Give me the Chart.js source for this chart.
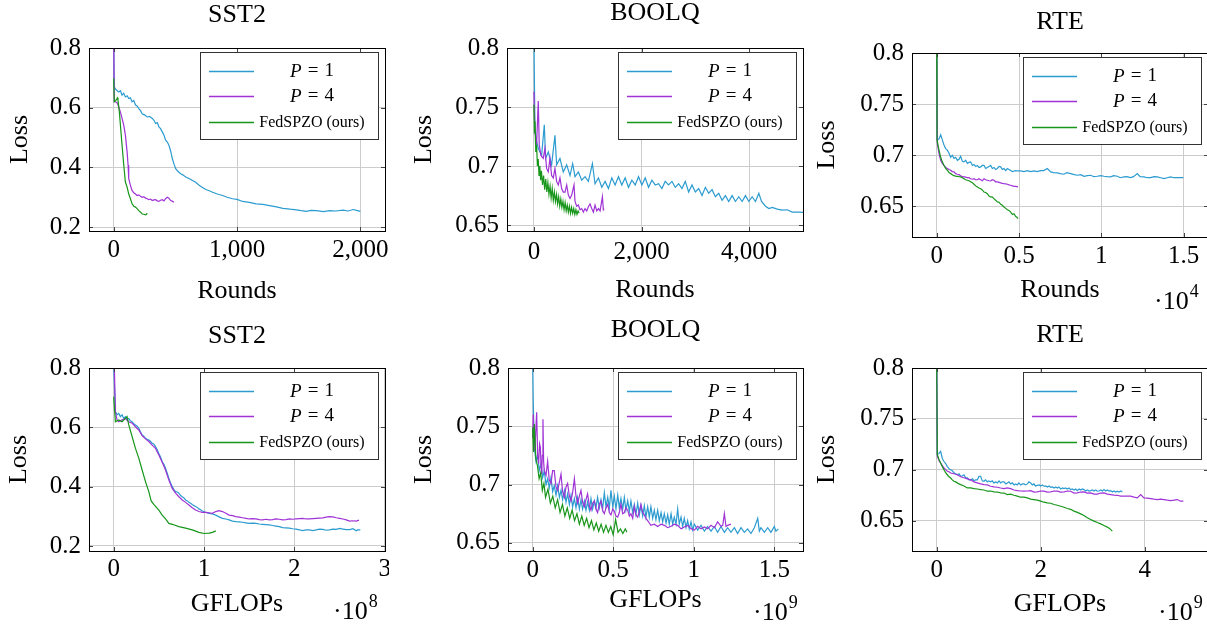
<!DOCTYPE html>
<html>
<head>
<meta charset="utf-8">
<script src="https://cdn.jsdelivr.net/npm/chart.js@4.4.0/dist/chart.umd.min.js"></script>
<style>
html, body { margin:0; padding:0; background:#fff; width:1207px; height:626px; overflow:hidden; position:relative; }
canvas { position:absolute; }
</style>
</head>
<body>
<canvas id="c1"></canvas>
<canvas id="c2"></canvas>
<canvas id="c3"></canvas>
<canvas id="c4"></canvas>
<canvas id="c5"></canvas>
<canvas id="c6"></canvas>
<script>
// ---- data ----
var seriesLabels = ['P = 1', 'P = 4', 'FedSPZO (ours)'];
var seriesColors = ['#2b9bd0', '#a033d6', '#17961a'];

var lossTicksCoarse = [0.2, 0.4, 0.6, 0.8];
var lossTicksFine = [0.65, 0.7, 0.75, 0.8];
var roundTicksSST2 = [0, 1000, 2000];
var roundTicksBOOLQ = [0, 2000, 4000];
var roundTicksRTE = [0, 5000, 10000, 15000];   // shown as x10^4
var flopTicksSST2 = [0, 1, 2, 3];              // x10^8
var flopTicksBOOLQ = [0, 0.5, 1, 1.5];         // x10^9
var flopTicksRTE = [0, 2, 4];                  // x10^9

// SST2 - rounds
var sst2RoundsP1 = [[0,0.85],[4,0.670],[20,0.660],[41,0.653],[55,0.657],[68,0.642],[82,0.648],[95,0.636],[110,0.640],[122,0.631],[135,0.633],[149,0.620],[163,0.624],[177,0.609],[190,0.606],[204,0.597],[218,0.590],[231,0.580],[250,0.576],[272,0.569],[290,0.571],[313,0.564],[327,0.558],[340,0.547],[354,0.550],[367,0.536],[380,0.530],[394,0.519],[408,0.508],[421,0.491],[435,0.485],[448,0.474],[462,0.455],[476,0.429],[490,0.410],[503,0.396],[520,0.387],[543,0.379],[560,0.375],[584,0.368],[610,0.363],[639,0.356],[665,0.350],[693,0.340],[720,0.333],[747,0.326],[775,0.322],[802,0.317],[840,0.311],[883,0.306],[920,0.300],[965,0.295],[1000,0.293],[1046,0.286],[1100,0.283],[1155,0.278],[1210,0.276],[1264,0.272],[1320,0.268],[1372,0.263],[1430,0.260],[1481,0.258],[1520,0.255],[1562,0.253],[1600,0.256],[1644,0.255],[1700,0.252],[1753,0.255],[1800,0.254],[1861,0.257],[1900,0.254],[1943,0.259],[1970,0.256],[2000,0.253]];
var sst2RoundsP4 = [[0,0.85],[5,0.620],[14,0.620],[27,0.617],[41,0.603],[54,0.586],[68,0.564],[82,0.541],[95,0.508],[109,0.452],[117,0.407],[122,0.362],[136,0.340],[149,0.323],[163,0.315],[177,0.311],[190,0.306],[204,0.308],[218,0.303],[231,0.300],[245,0.302],[258,0.297],[272,0.295],[285,0.292],[299,0.294],[313,0.289],[326,0.291],[340,0.292],[354,0.288],[367,0.286],[380,0.290],[394,0.292],[408,0.288],[421,0.295],[435,0.300],[448,0.297],[462,0.289],[475,0.287],[489,0.283]];
var sst2RoundsOurs = [[0,0.698],[5,0.620],[12,0.622],[19,0.625],[30,0.633],[35,0.625],[46,0.586],[57,0.530],[68,0.474],[82,0.407],[95,0.351],[109,0.334],[122,0.311],[136,0.295],[149,0.278],[163,0.270],[177,0.267],[190,0.262],[204,0.255],[218,0.250],[231,0.244],[245,0.243],[258,0.241],[265,0.242],[272,0.247]];

// BOOLQ - rounds
var boolqRoundsP1 = [[0,0.81],[19,0.732],[50,0.721],[81,0.715],[143,0.709],[193,0.735],[217,0.7065],[267,0.712],[329,0.701],[391,0.726],[422,0.701],[484,0.7065],[546,0.695],[609,0.701],[671,0.692],[720,0.702],[764,0.691],[826,0.695],[888,0.688],[950,0.691],[1012,0.687],[1087,0.702],[1136,0.685],[1199,0.690],[1261,0.682],[1323,0.687],[1385,0.681],[1447,0.690],[1509,0.684],[1571,0.691],[1633,0.684],[1695,0.690],[1757,0.682],[1820,0.688],[1882,0.684],[1944,0.691],[2006,0.684],[2068,0.690],[2130,0.682],[2192,0.688],[2254,0.684],[2316,0.685],[2378,0.681],[2440,0.687],[2502,0.684],[2565,0.687],[2627,0.682],[2689,0.685],[2751,0.681],[2813,0.687],[2875,0.678],[2937,0.684],[2999,0.678],[3062,0.681],[3124,0.675],[3186,0.682],[3248,0.677],[3310,0.680],[3372,0.674],[3434,0.677],[3496,0.671],[3558,0.675],[3620,0.670],[3683,0.675],[3745,0.670],[3807,0.674],[3869,0.670],[3931,0.675],[3993,0.670],[4055,0.674],[4117,0.670],[4179,0.677],[4229,0.670],[4304,0.666],[4366,0.664],[4428,0.665],[4521,0.6635],[4614,0.6627],[4707,0.663],[4800,0.661],[4925,0.661],[5018,0.6607]];
var boolqRoundsP4 = [[0,0.763],[19,0.729],[50,0.718],[81,0.755],[99,0.718],[130,0.709],[174,0.7065],[205,0.715],[236,0.698],[267,0.695],[298,0.7065],[329,0.692],[360,0.690],[391,0.698],[422,0.687],[453,0.684],[484,0.690],[515,0.681],[546,0.678],[578,0.678],[609,0.684],[640,0.6754],[671,0.6726],[702,0.6754],[745,0.684],[764,0.670],[795,0.666],[826,0.667],[857,0.663],[888,0.664],[919,0.661],[950,0.664],[981,0.662],[1012,0.6655],[1043,0.668],[1074,0.664],[1105,0.661],[1136,0.667],[1168,0.662],[1199,0.664],[1230,0.662],[1273,0.674],[1290,0.663],[1304,0.664]];
var boolqRoundsOurs = [[0,0.752],[10,0.728],[20,0.738],[35,0.712],[50,0.718],[65,0.700],[80,0.706],[95,0.692],[110,0.700],[125,0.688],[140,0.696],[160,0.684],[180,0.692],[200,0.680],[220,0.689],[240,0.678],[260,0.686],[280,0.676],[300,0.683],[320,0.673],[340,0.681],[360,0.671],[380,0.678],[400,0.670],[420,0.676],[440,0.668],[460,0.674],[480,0.666],[500,0.672],[520,0.665],[540,0.670],[560,0.663],[580,0.669],[600,0.662],[620,0.667],[640,0.661],[660,0.666],[680,0.660],[700,0.665],[720,0.660],[740,0.664],[760,0.659],[780,0.663],[800,0.659],[820,0.662],[840,0.660]];

// RTE - rounds
var rteRoundsP1 = [[0,0.81],[40,0.715],[142,0.716],[243,0.720],[344,0.715],[445,0.710],[547,0.7065],[648,0.705],[749,0.702],[850,0.698],[950,0.700],[1052,0.697],[1150,0.698],[1255,0.695],[1360,0.696],[1457,0.699],[1560,0.694],[1660,0.6935],[1760,0.695],[1862,0.692],[1960,0.693],[2064,0.6935],[2170,0.690],[2267,0.691],[2370,0.689],[2469,0.690],[2570,0.688],[2672,0.6886],[2770,0.690],[2874,0.690],[2975,0.687],[3076,0.688],[3180,0.689],[3279,0.690],[3380,0.687],[3481,0.688],[3580,0.686],[3684,0.687],[3790,0.689],[3886,0.6886],[3990,0.686],[4088,0.687],[4190,0.685],[4291,0.687],[4390,0.686],[4493,0.685],[4600,0.684],[4696,0.6846],[4800,0.685],[4898,0.6846],[5100,0.6846],[5300,0.684],[5505,0.685],[5700,0.684],[5910,0.6846],[6100,0.684],[6315,0.685],[6500,0.685],[6720,0.687],[6922,0.6837],[7100,0.683],[7327,0.6827],[7500,0.682],[7732,0.6814],[7900,0.683],[8136,0.682],[8350,0.681],[8541,0.6804],[8750,0.681],[8946,0.6794],[9150,0.680],[9351,0.6804],[9550,0.679],[9756,0.6794],[9950,0.680],[10160,0.6794],[10350,0.679],[10565,0.6788],[10750,0.680],[10970,0.6794],[11150,0.678],[11375,0.6788],[11550,0.679],[11780,0.6781],[11950,0.679],[12184,0.682],[12350,0.679],[12589,0.6788],[12800,0.678],[12994,0.6781],[13200,0.679],[13399,0.6788],[13600,0.678],[13804,0.6771],[14000,0.678],[14208,0.6788],[14400,0.678],[14613,0.6781],[14800,0.678],[14978,0.6781]];
var rteRoundsP4 = [[0,0.81],[40,0.7114],[142,0.7016],[243,0.695],[344,0.692],[445,0.690],[547,0.688],[648,0.687],[749,0.686],[850,0.6853],[950,0.684],[1052,0.6837],[1150,0.682],[1255,0.6814],[1360,0.681],[1457,0.680],[1560,0.679],[1660,0.6788],[1760,0.6785],[1862,0.678],[1960,0.678],[2064,0.677],[2170,0.6765],[2267,0.677],[2370,0.676],[2469,0.676],[2570,0.677],[2672,0.676],[2770,0.675],[2874,0.677],[2975,0.676],[3076,0.6755],[3180,0.675],[3279,0.6748],[3380,0.676],[3481,0.6755],[3580,0.674],[3684,0.674],[3790,0.6735],[3886,0.673],[3990,0.6725],[4088,0.6722],[4190,0.672],[4291,0.6716],[4390,0.671],[4493,0.6706],[4600,0.670],[4696,0.6696],[4800,0.6695],[4939,0.669]];
var rteRoundsOurs = [[0,0.81],[20,0.715],[142,0.705],[243,0.698],[344,0.6935],[445,0.690],[547,0.687],[648,0.6853],[749,0.683],[850,0.682],[950,0.681],[1052,0.680],[1150,0.6795],[1255,0.6794],[1360,0.679],[1457,0.6788],[1560,0.678],[1660,0.677],[1760,0.676],[1862,0.6755],[1960,0.675],[2064,0.674],[2170,0.673],[2267,0.6716],[2370,0.670],[2469,0.669],[2570,0.668],[2672,0.6673],[2770,0.666],[2874,0.664],[2975,0.6635],[3076,0.6624],[3180,0.660],[3279,0.6592],[3380,0.659],[3481,0.6575],[3580,0.656],[3684,0.6543],[3790,0.654],[3886,0.652],[3990,0.651],[4088,0.6494],[4190,0.648],[4291,0.6467],[4390,0.646],[4493,0.6444],[4600,0.642],[4696,0.6428],[4800,0.640],[4858,0.6395],[4939,0.638]];

// SST2 - GFLOPs (x10^8)
var sst2FlopsP1 = [[0,0.81],[0.019,0.653],[0.037,0.642],[0.056,0.647],[0.074,0.636],[0.093,0.642],[0.111,0.630],[0.130,0.636],[0.148,0.628],[0.167,0.630],[0.185,0.622],[0.204,0.619],[0.222,0.612],[0.241,0.608],[0.26,0.604],[0.278,0.597],[0.296,0.585],[0.315,0.574],[0.333,0.570],[0.352,0.563],[0.37,0.560],[0.389,0.557],[0.407,0.553],[0.426,0.546],[0.444,0.544],[0.463,0.535],[0.481,0.525],[0.500,0.512],[0.519,0.500],[0.537,0.484],[0.556,0.475],[0.574,0.462],[0.593,0.445],[0.611,0.428],[0.630,0.412],[0.648,0.400],[0.667,0.390],[0.685,0.383],[0.704,0.382],[0.722,0.378],[0.741,0.370],[0.759,0.366],[0.778,0.362],[0.796,0.355],[0.815,0.352],[0.833,0.347],[0.852,0.344],[0.870,0.340],[0.889,0.336],[0.907,0.333],[0.926,0.330],[0.944,0.325],[0.963,0.322],[0.981,0.318],[1.000,0.316],[1.019,0.313],[1.056,0.310],[1.093,0.308],[1.130,0.304],[1.167,0.298],[1.204,0.293],[1.241,0.291],[1.278,0.288],[1.315,0.284],[1.352,0.282],[1.389,0.281],[1.426,0.280],[1.463,0.278],[1.500,0.276],[1.537,0.277],[1.574,0.276],[1.611,0.274],[1.648,0.273],[1.685,0.272],[1.722,0.271],[1.759,0.269],[1.796,0.267],[1.833,0.265],[1.870,0.262],[1.907,0.261],[1.944,0.260],[1.981,0.258],[2.019,0.257],[2.056,0.254],[2.093,0.252],[2.13,0.254],[2.167,0.254],[2.204,0.252],[2.241,0.254],[2.278,0.257],[2.315,0.256],[2.352,0.253],[2.389,0.254],[2.426,0.257],[2.463,0.256],[2.5,0.259],[2.537,0.257],[2.574,0.255],[2.611,0.255],[2.648,0.258],[2.685,0.251],[2.70,0.254],[2.730,0.254]];
var sst2FlopsP4 = [[0.007,0.81],[0.019,0.653],[0.037,0.625],[0.056,0.619],[0.074,0.622],[0.093,0.625],[0.111,0.627],[0.130,0.630],[0.148,0.624],[0.167,0.619],[0.204,0.614],[0.241,0.602],[0.278,0.591],[0.315,0.572],[0.352,0.561],[0.389,0.552],[0.426,0.540],[0.463,0.529],[0.500,0.507],[0.537,0.482],[0.574,0.456],[0.611,0.422],[0.648,0.394],[0.685,0.378],[0.722,0.366],[0.759,0.355],[0.796,0.347],[0.833,0.338],[0.870,0.329],[0.907,0.321],[0.944,0.316],[0.981,0.313],[1.019,0.313],[1.056,0.312],[1.093,0.310],[1.130,0.316],[1.167,0.319],[1.204,0.316],[1.241,0.310],[1.278,0.304],[1.315,0.302],[1.352,0.299],[1.389,0.297],[1.426,0.295],[1.463,0.293],[1.500,0.291],[1.537,0.292],[1.574,0.291],[1.611,0.289],[1.648,0.288],[1.685,0.290],[1.722,0.288],[1.759,0.289],[1.796,0.291],[1.833,0.290],[1.870,0.288],[1.907,0.289],[1.944,0.291],[1.981,0.290],[2.019,0.291],[2.056,0.292],[2.093,0.293],[2.13,0.291],[2.167,0.291],[2.204,0.292],[2.241,0.293],[2.278,0.294],[2.315,0.295],[2.352,0.297],[2.389,0.299],[2.426,0.298],[2.463,0.295],[2.5,0.293],[2.537,0.291],[2.574,0.288],[2.611,0.284],[2.648,0.285],[2.685,0.284],[2.715,0.287]];
var sst2FlopsOurs = [[0,0.703],[0.019,0.619],[0.056,0.625],[0.093,0.619],[0.130,0.630],[0.148,0.636],[0.167,0.608],[0.204,0.569],[0.241,0.529],[0.278,0.496],[0.315,0.456],[0.352,0.417],[0.389,0.383],[0.415,0.352],[0.444,0.340],[0.500,0.321],[0.537,0.304],[0.574,0.291],[0.611,0.276],[0.648,0.273],[0.722,0.265],[0.796,0.260],[0.870,0.254],[0.944,0.246],[1.000,0.242],[1.056,0.243],[1.093,0.246],[1.130,0.251]];

// BOOLQ - GFLOPs (x10^9)
var boolqFlopsP1 = [[0,0.81],[0.004,0.769],[0.010,0.732],[0.021,0.720],[0.031,0.726],[0.041,0.712],[0.052,0.718],[0.062,0.706],[0.072,0.712],[0.083,0.700],[0.093,0.705],[0.103,0.697],[0.114,0.706],[0.124,0.694],[0.134,0.699],[0.145,0.691],[0.155,0.699],[0.166,0.689],[0.176,0.695],[0.186,0.687],[0.197,0.695],[0.207,0.685],[0.217,0.692],[0.228,0.683],[0.238,0.691],[0.248,0.681],[0.259,0.688],[0.269,0.680],[0.279,0.689],[0.290,0.679],[0.300,0.687],[0.310,0.679],[0.321,0.686],[0.331,0.678],[0.341,0.685],[0.352,0.678],[0.362,0.688],[0.372,0.679],[0.383,0.686],[0.393,0.680],[0.403,0.689],[0.414,0.680],[0.424,0.687],[0.434,0.679],[0.445,0.693],[0.455,0.681],[0.466,0.689],[0.476,0.680],[0.486,0.695],[0.497,0.681],[0.507,0.690],[0.517,0.679],[0.528,0.691],[0.538,0.680],[0.548,0.688],[0.559,0.679],[0.569,0.689],[0.579,0.678],[0.590,0.686],[0.600,0.677],[0.610,0.686],[0.621,0.676],[0.631,0.683],[0.641,0.674],[0.652,0.684],[0.662,0.674],[0.672,0.682],[0.683,0.673],[0.693,0.682],[0.703,0.672],[0.714,0.681],[0.724,0.672],[0.734,0.681],[0.745,0.671],[0.755,0.678],[0.765,0.670],[0.776,0.678],[0.786,0.669],[0.797,0.676],[0.807,0.668],[0.817,0.675],[0.828,0.667],[0.838,0.674],[0.848,0.666],[0.859,0.675],[0.869,0.666],[0.879,0.672],[0.890,0.666],[0.900,0.679],[0.910,0.666],[0.921,0.672],[0.931,0.664],[0.941,0.671],[0.952,0.663],[0.962,0.669],[0.972,0.662],[0.983,0.668],[0.993,0.661],[1.004,0.666],[1.024,0.661],[1.045,0.665],[1.066,0.660],[1.086,0.664],[1.107,0.660],[1.128,0.664],[1.148,0.659],[1.169,0.664],[1.190,0.659],[1.210,0.663],[1.231,0.659],[1.252,0.663],[1.272,0.658],[1.293,0.663],[1.314,0.659],[1.334,0.662],[1.355,0.658],[1.376,0.663],[1.397,0.671],[1.407,0.660],[1.417,0.663],[1.438,0.659],[1.459,0.663],[1.479,0.659],[1.500,0.664],[1.510,0.660],[1.525,0.662]];
var boolqFlopsP4 = [[0,0.740],[0.004,0.760],[0.009,0.735],[0.014,0.729],[0.020,0.748],[0.025,0.762],[0.031,0.725],[0.037,0.718],[0.043,0.735],[0.048,0.732],[0.052,0.716],[0.056,0.709],[0.060,0.725],[0.064,0.756],[0.068,0.720],[0.072,0.712],[0.083,0.708],[0.093,0.720],[0.103,0.704],[0.114,0.701],[0.124,0.712],[0.134,0.712],[0.145,0.698],[0.155,0.695],[0.166,0.702],[0.176,0.709],[0.186,0.694],[0.197,0.689],[0.207,0.698],[0.217,0.701],[0.228,0.690],[0.238,0.686],[0.248,0.693],[0.259,0.705],[0.269,0.690],[0.279,0.684],[0.290,0.690],[0.300,0.695],[0.310,0.685],[0.321,0.681],[0.331,0.687],[0.341,0.692],[0.352,0.682],[0.362,0.678],[0.372,0.684],[0.383,0.686],[0.393,0.679],[0.403,0.676],[0.414,0.683],[0.424,0.686],[0.434,0.678],[0.445,0.675],[0.455,0.680],[0.466,0.683],[0.476,0.676],[0.486,0.674],[0.497,0.679],[0.507,0.677],[0.517,0.673],[0.528,0.672],[0.538,0.676],[0.548,0.683],[0.559,0.675],[0.569,0.676],[0.579,0.680],[0.590,0.678],[0.600,0.673],[0.610,0.675],[0.621,0.671],[0.631,0.681],[0.641,0.674],[0.652,0.672],[0.662,0.677],[0.672,0.683],[0.683,0.676],[0.693,0.674],[0.703,0.671],[0.714,0.669],[0.724,0.667],[0.734,0.665],[0.755,0.666],[0.776,0.664],[0.797,0.666],[0.817,0.665],[0.838,0.663],[0.859,0.6642],[0.879,0.666],[0.900,0.665],[0.921,0.662],[0.941,0.6636],[0.962,0.665],[0.983,0.6622],[1.004,0.661],[1.024,0.6642],[1.045,0.662],[1.066,0.6636],[1.086,0.662],[1.107,0.665],[1.128,0.663],[1.148,0.668],[1.169,0.6642],[1.180,0.665],[1.190,0.675],[1.200,0.664],[1.210,0.665],[1.231,0.666]];
var boolqFlopsOurs = [[0,0.749],[0.005,0.728],[0.010,0.752],[0.020,0.722],[0.030,0.716],[0.040,0.705],[0.050,0.710],[0.060,0.695],[0.070,0.701],[0.080,0.689],[0.095,0.696],[0.110,0.684],[0.125,0.690],[0.140,0.680],[0.155,0.687],[0.170,0.676],[0.185,0.683],[0.200,0.673],[0.215,0.680],[0.230,0.671],[0.245,0.678],[0.260,0.669],[0.275,0.675],[0.290,0.666],[0.305,0.673],[0.320,0.665],[0.335,0.671],[0.350,0.663],[0.365,0.669],[0.380,0.661],[0.395,0.667],[0.410,0.660],[0.425,0.666],[0.440,0.659],[0.455,0.665],[0.470,0.659],[0.485,0.664],[0.500,0.657],[0.515,0.670],[0.530,0.659],[0.545,0.662],[0.560,0.658],[0.575,0.662],[0.585,0.659]];

// RTE - GFLOPs (x10^9)
var rteFlopsP1 = [[0,0.81],[0.013,0.715],[0.045,0.716],[0.077,0.718],[0.109,0.711],[0.141,0.708],[0.173,0.706],[0.205,0.703],[0.237,0.701],[0.269,0.700],[0.301,0.699],[0.333,0.697],[0.365,0.696],[0.397,0.695],[0.43,0.696],[0.462,0.6935],[0.494,0.694],[0.526,0.695],[0.558,0.692],[0.590,0.692],[0.622,0.690],[0.654,0.690],[0.69,0.691],[0.72,0.689],[0.75,0.690],[0.782,0.690],[0.815,0.6935],[0.846,0.6935],[0.878,0.689],[0.910,0.6886],[0.94,0.690],[0.975,0.688],[1.0,0.689],[1.038,0.688],[1.07,0.689],[1.10,0.687],[1.135,0.688],[1.167,0.687],[1.20,0.689],[1.23,0.687],[1.26,0.688],[1.295,0.688],[1.33,0.686],[1.36,0.687],[1.39,0.688],[1.423,0.686],[1.455,0.687],[1.49,0.685],[1.52,0.686],[1.551,0.685],[1.58,0.687],[1.615,0.685],[1.65,0.686],[1.679,0.686],[1.71,0.685],[1.745,0.686],[1.775,0.688],[1.808,0.687],[1.84,0.685],[1.87,0.686],[1.90,0.684],[1.936,0.6846],[1.97,0.685],[2.0,0.684],[2.03,0.685],[2.064,0.6837],[2.10,0.684],[2.13,0.683],[2.16,0.684],[2.192,0.6827],[2.225,0.683],[2.26,0.682],[2.29,0.683],[2.321,0.682],[2.35,0.683],[2.385,0.681],[2.42,0.682],[2.449,0.6814],[2.48,0.682],[2.51,0.681],[2.545,0.682],[2.577,0.6804],[2.61,0.681],[2.64,0.680],[2.675,0.681],[2.705,0.6794],[2.74,0.681],[2.77,0.680],[2.80,0.681],[2.833,0.6804],[2.865,0.679],[2.90,0.680],[2.93,0.679],[2.962,0.6794],[2.995,0.680],[3.025,0.679],[3.06,0.680],[3.090,0.6788],[3.12,0.679],[3.155,0.680],[3.185,0.679],[3.218,0.6804],[3.25,0.679],[3.28,0.680],[3.315,0.679],[3.346,0.6794],[3.38,0.678],[3.41,0.679],[3.44,0.678],[3.474,0.6788],[3.505,0.678],[3.54,0.679],[3.571,0.6781]];
var rteFlopsP4 = [[0,0.81],[0.013,0.713],[0.045,0.709],[0.077,0.7065],[0.109,0.704],[0.141,0.7016],[0.173,0.700],[0.205,0.6984],[0.237,0.698],[0.269,0.6967],[0.333,0.696],[0.397,0.695],[0.462,0.693],[0.526,0.692],[0.590,0.691],[0.654,0.690],[0.718,0.688],[0.782,0.687],[0.846,0.686],[0.910,0.6853],[0.974,0.685],[1.038,0.6837],[1.103,0.683],[1.167,0.6827],[1.231,0.682],[1.295,0.6814],[1.359,0.682],[1.423,0.6814],[1.487,0.680],[1.551,0.6794],[1.615,0.679],[1.679,0.6788],[1.744,0.679],[1.808,0.6794],[1.872,0.678],[1.936,0.6781],[2.0,0.679],[2.064,0.6788],[2.128,0.678],[2.192,0.6781],[2.256,0.679],[2.321,0.6788],[2.385,0.678],[2.449,0.6781],[2.513,0.679],[2.577,0.6788],[2.641,0.677],[2.705,0.6771],[2.769,0.678],[2.833,0.6781],[2.897,0.677],[2.962,0.6771],[3.026,0.676],[3.090,0.676],[3.154,0.677],[3.218,0.6771],[3.282,0.676],[3.346,0.6755],[3.41,0.675],[3.474,0.6748],[3.538,0.674],[3.603,0.6739],[3.667,0.674],[3.731,0.6739],[3.795,0.673],[3.859,0.6722],[3.923,0.6755],[3.987,0.6722],[4.051,0.672],[4.115,0.6716],[4.18,0.671],[4.244,0.6706],[4.308,0.671],[4.372,0.6706],[4.436,0.670],[4.500,0.6696],[4.564,0.670],[4.628,0.6706],[4.69,0.669],[4.744,0.669]];
var rteFlopsOurs = [[0,0.81],[0.013,0.715],[0.045,0.710],[0.077,0.7065],[0.109,0.703],[0.141,0.700],[0.173,0.697],[0.205,0.695],[0.237,0.693],[0.269,0.6918],[0.301,0.690],[0.333,0.6886],[0.365,0.688],[0.397,0.687],[0.43,0.686],[0.462,0.6853],[0.526,0.684],[0.590,0.682],[0.654,0.682],[0.718,0.6814],[0.782,0.681],[0.846,0.6804],[0.910,0.680],[0.974,0.6788],[1.038,0.679],[1.103,0.6781],[1.167,0.678],[1.231,0.6771],[1.295,0.677],[1.359,0.6755],[1.423,0.676],[1.487,0.6748],[1.551,0.674],[1.615,0.6729],[1.679,0.673],[1.744,0.6722],[1.808,0.671],[1.872,0.6706],[1.936,0.670],[2.000,0.669],[2.064,0.668],[2.128,0.6673],[2.192,0.667],[2.256,0.6657],[2.321,0.665],[2.385,0.664],[2.449,0.663],[2.513,0.6618],[2.577,0.661],[2.641,0.6592],[2.705,0.658],[2.769,0.6565],[2.833,0.655],[2.897,0.6526],[2.962,0.651],[3.026,0.6494],[3.090,0.648],[3.154,0.6467],[3.218,0.645],[3.282,0.6435],[3.33,0.642],[3.378,0.6395]];

// ---- layout of the six panels (page pixels) ----
var HEAD = 60, YAX = 100, XAX = 80, RPAD = 4;
var FS = 26, TICKFS = 25;
var panels = [
  {id:'c1', L:89,  R:385,  T:48,  B:231, title:'SST2',  titleC:27,   lossC:31, xTitle:'Rounds', xTitleD:60.5, tickD:19.5,
   xMin:-200, xMax:2200, yMin:0.187, yMax:0.8, xTicks:roundTicksSST2, yTicks:lossTicksCoarse, fmt:'thousands', exp:null,
   series:[sst2RoundsP1, sst2RoundsP4, sst2RoundsOurs]},
  {id:'c2', L:507, R:803,  T:48,  B:231, title:'BOOLQ', titleC:25.5, lossC:17, xTitle:'Rounds', xTitleD:59.5, tickD:21.5,
   xMin:-500, xMax:5000, yMin:0.645, yMax:0.8, xTicks:roundTicksBOOLQ, yTicks:lossTicksFine, fmt:'thousands', exp:null,
   series:[boolqRoundsP1, boolqRoundsP4, boolqRoundsOurs]},
  {id:'c3', L:912, R:1208, T:53,  B:237, title:'RTE',   titleC:29.5, lossC:15, xTitle:'Rounds', xTitleD:53, tickD:19.5,
   xMin:-1498, xMax:16476, yMin:0.62, yMax:0.8, xTicks:roundTicksRTE, yTicks:lossTicksFine, fmt:'e4', exp:{t:'4', dx:-54, dy:65},
   series:[rteRoundsP1, rteRoundsP4, rteRoundsOurs]},
  {id:'c4', L:89,  R:385,  T:368, B:551, title:'SST2',  titleC:28.5, lossC:30, xTitle:'GFLOPs', xTitleD:53.5, tickD:18.5,
   xMin:-0.273, xMax:3.003, yMin:0.183, yMax:0.8, xTicks:flopTicksSST2, yTicks:lossTicksCoarse, fmt:'plain', exp:{t:'8', dx:-52, dy:61},
   series:[sst2FlopsP1, sst2FlopsP4, sst2FlopsOurs]},
  {id:'c5', L:508, R:803,  T:368, B:551, title:'BOOLQ', titleC:22.5, lossC:16, xTitle:'GFLOPs', xTitleD:49.5, tickD:19,
   xMin:-0.153, xMax:1.678, yMin:0.643, yMax:0.8, xTicks:flopTicksBOOLQ, yTicks:lossTicksFine, fmt:'plain', exp:{t:'9', dx:-50, dy:62},
   series:[boolqFlopsP1, boolqFlopsP4, boolqFlopsOurs]},
  {id:'c6', L:912, R:1208, T:368, B:551, title:'RTE',   titleC:27.5, lossC:15, xTitle:'GFLOPs', xTitleD:53.5, tickD:19.5,
   xMin:-0.474, xMax:5.218, yMin:0.62, yMax:0.8, xTicks:flopTicksRTE, yTicks:lossTicksFine, fmt:'plain', exp:{t:'9', dx:-50, dy:62},
   series:[rteFlopsP1, rteFlopsP4, rteFlopsOurs]}
];

var SERIF = '"Liberation Serif", "Times New Roman", serif';
Chart.defaults.font.family = SERIF;
Chart.defaults.color = '#000';

function fmtTick(kind, v) {
  if (kind === 'thousands') return v.toLocaleString('en-US');
  if (kind === 'e4') return String(v / 10000);
  return String(v);
}

// black frame + small inner tick marks
var framePlugin = {
  id: 'frame',
  afterDatasetsDraw: function(chart) {
    var ctx = chart.ctx, a = chart.chartArea, sx = chart.scales.x, sy = chart.scales.y;
    ctx.save();
    ctx.lineWidth = 1;
    ctx.strokeStyle = '#444';
    ctx.beginPath();
    sx.ticks.forEach(function(t) {
      var px = Math.round(sx.getPixelForValue(t.value)) + 0.5;
      ctx.moveTo(px, a.bottom); ctx.lineTo(px, a.bottom - 4);
      ctx.moveTo(px, a.top); ctx.lineTo(px, a.top + 4);
    });
    sy.ticks.forEach(function(t) {
      var py = Math.round(sy.getPixelForValue(t.value)) + 0.5;
      ctx.moveTo(a.left, py); ctx.lineTo(a.left + 4, py);
      ctx.moveTo(a.right, py); ctx.lineTo(a.right - 4, py);
    });
    ctx.stroke();
    ctx.strokeStyle = '#000';
    ctx.strokeRect(Math.round(a.left) + 0.5, Math.round(a.top) + 0.5, Math.round(a.right - a.left), Math.round(a.bottom - a.top));
    ctx.restore();
  }
};

function drawLegendText(ctx, label, cx, cy) {
  ctx.textBaseline = 'middle';
  ctx.fillStyle = '#000';
  var m = /^P = (\d+)$/.exec(label);
  if (m) {
    var fi = 'italic 19px ' + SERIF, fr = '19px ' + SERIF, gap = 6;
    ctx.font = fi; var wP = ctx.measureText('P').width;
    ctx.font = fr; var wEq = ctx.measureText('=').width, wN = ctx.measureText(m[1]).width;
    var x = cx - (wP + gap + wEq + gap + wN) / 2;
    ctx.textAlign = 'left';
    ctx.font = fi; ctx.fillText('P', x, cy); x += wP + gap;
    ctx.font = fr; ctx.fillText('=', x, cy); x += wEq + gap;
    ctx.fillText(m[1], x, cy);
  } else {
    ctx.font = '16px ' + SERIF;
    ctx.textAlign = 'center';
    ctx.fillText(label, cx, cy);
  }
}

var legendPlugin = {
  id: 'boxLegend',
  afterDraw: function(chart, args, opts) {
    var ctx = chart.ctx, a = chart.chartArea;
    var w = 178, h = 87, x0 = Math.round(a.right) - 7 - w, y0 = Math.round(a.top) + 4;
    var rows = [19, 44, 70];
    ctx.save();
    ctx.fillStyle = '#fff';
    ctx.fillRect(x0, y0, w, h);
    ctx.strokeStyle = '#333';
    ctx.lineWidth = 1;
    ctx.strokeRect(x0 + 0.5, y0 + 0.5, w, h);
    chart.data.datasets.forEach(function(ds, i) {
      var cy = y0 + rows[i] + 0.5;
      ctx.strokeStyle = ds.borderColor;
      ctx.lineWidth = 1.3;
      ctx.beginPath(); ctx.moveTo(x0 + 9, cy); ctx.lineTo(x0 + 54, cy); ctx.stroke();
      drawLegendText(ctx, ds.label, x0 + 112, cy);
    });
    // scale factor like ·10^4
    if (opts.exp) {
      var ex = a.right + opts.exp.dx, ey = a.bottom + opts.exp.dy;
      ctx.fillStyle = '#000';
      ctx.textAlign = 'left';
      ctx.textBaseline = 'middle';
      ctx.font = FS + 'px ' + SERIF;
      ctx.fillText('\u00B710', ex, ey);
      var wb = ctx.measureText('\u00B710').width;
      ctx.font = '18px ' + SERIF;
      ctx.fillText(opts.exp.t, ex + wb + 1, ey - 10);
    }
    ctx.restore();
  }
};

panels.forEach(function(p) {
  var cv = document.getElementById(p.id);
  var W = YAX + (p.R - p.L) + RPAD, H = HEAD + (p.B - p.T) + XAX;
  cv.width = W; cv.height = H;
  cv.style.left = (p.L - YAX) + 'px';
  cv.style.top = (p.T - HEAD) + 'px';
  cv.style.width = W + 'px'; cv.style.height = H + 'px';

  var datasets = p.series.map(function(s, i) {
    return {
      label: seriesLabels[i],
      data: s.map(function(d) { return {x: d[0], y: d[1]}; }),
      borderColor: seriesColors[i],
      backgroundColor: seriesColors[i],
      borderWidth: 1.2,
      pointRadius: 0,
      tension: 0,
      order: 2 - i
    };
  });

  var half = FS * 1.2 / 2, tickHalf = TICKFS * 1.2 / 2;
  var fontLab = {size: FS, lineHeight: 1.2};
  var fontTick = {size: TICKFS, lineHeight: 1.2};
  new Chart(cv.getContext('2d'), {
    type: 'line',
    data: {datasets: datasets},
    options: {
      responsive: false,
      animation: false,
      devicePixelRatio: 1,
      layout: {padding: {left: 0, right: RPAD, top: 0, bottom: 0}},
      plugins: {
        legend: {display: false},
        tooltip: {enabled: false},
        title: {display: true, fullSize: false, text: p.title, font: {size: FS, lineHeight: 1.2, weight: 'normal'}, color: '#000',
                padding: {top: p.titleC - half, bottom: HEAD - 2 * half - (p.titleC - half)}},
        boxLegend: {exp: p.exp}
      },
      scales: {
        x: {
          type: 'linear', min: p.xMin, max: p.xMax,
          afterBuildTicks: function(s) { s.ticks = p.xTicks.map(function(v) { return {value: v}; }); },
          afterFit: function(s) { s.height = XAX; s.paddingLeft = 0; s.paddingRight = 0; },
          grid: {color: '#cccccc', lineWidth: 1, drawTicks: false},
          border: {display: false},
          ticks: {autoSkip: false, maxRotation: 0, padding: p.tickD - tickHalf, font: fontTick, color: '#000',
                  callback: function(v) { return fmtTick(p.fmt, v); }},
          title: {display: true, text: p.xTitle, font: fontLab, color: '#000',
                  padding: {top: 0, bottom: XAX - half - p.xTitleD}}
        },
        y: {
          type: 'linear', min: p.yMin, max: p.yMax,
          afterBuildTicks: function(s) { s.ticks = p.yTicks.map(function(v) { return {value: v}; }); },
          afterFit: function(s) { s.width = YAX; s.paddingTop = 0; s.paddingBottom = 0; },
          grid: {color: '#cccccc', lineWidth: 1, drawTicks: false},
          border: {display: false},
          ticks: {padding: 8, font: fontTick, color: '#000', callback: function(v) { return String(v); }},
          title: {display: true, text: 'Loss', font: fontLab, color: '#000',
                  padding: {top: p.lossC - half, bottom: 0}}
        }
      }
    },
    plugins: [framePlugin, legendPlugin]
  });
});
</script>
</body>
</html>
